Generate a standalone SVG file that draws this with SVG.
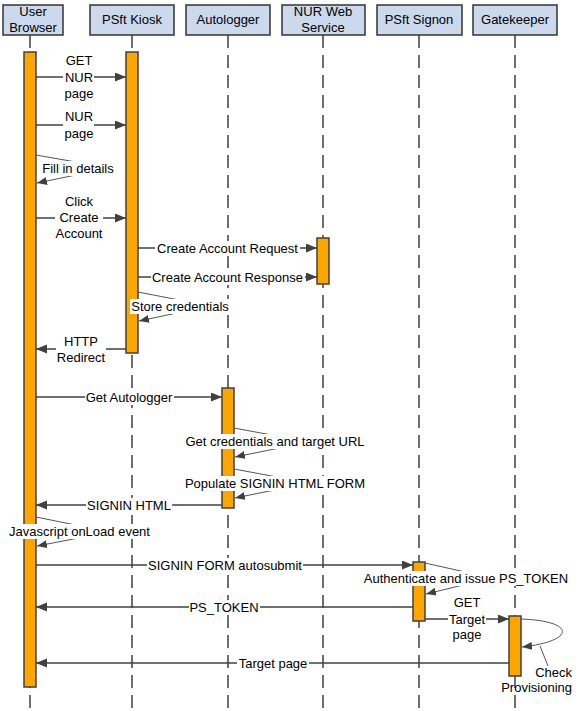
<svg xmlns="http://www.w3.org/2000/svg" width="580" height="711" viewBox="0 0 580 711">
<style>
text{font-family:"Liberation Sans",Arial,sans-serif;font-size:13px;fill:#000}
.hdr{fill:#ccd9ec;stroke:#333;stroke-width:1.5}
.life{stroke:#404040;stroke-width:1.5;stroke-dasharray:13,7;fill:none}
.act{fill:#ffa500;stroke:#404040;stroke-width:1.5}
.msg{stroke:#404040;stroke-width:1.5;fill:none;marker-end:url(#ah)}
.self{stroke:#555;stroke-width:1;fill:none;marker-end:url(#ah2)}
.bg{fill:#fff}
.c{text-anchor:middle}
</style>
<defs>
<marker id="ah" markerUnits="userSpaceOnUse" markerWidth="12" markerHeight="10" refX="11" refY="4.5" orient="auto">
<path d="M0,0 L11,4.5 L0,9 z" fill="#404040"/>
</marker>
<marker id="ah2" markerUnits="userSpaceOnUse" markerWidth="12" markerHeight="10" refX="10" refY="4" orient="auto">
<path d="M0,0 L10,4 L0,8 z" fill="#404040"/>
</marker>
</defs>

<g id="lifelines">
<line class="life" x1="30" y1="35" x2="30" y2="711"/>
<line class="life" x1="132" y1="35" x2="132" y2="711"/>
<line class="life" x1="228" y1="35" x2="228" y2="711"/>
<line class="life" x1="323" y1="35" x2="323" y2="711"/>
<line class="life" x1="419" y1="35" x2="419" y2="711"/>
<line class="life" x1="515" y1="35" x2="515" y2="711"/>
</g>

<g id="node-user-browser">
<rect class="hdr" x="3" y="5" width="60" height="30"/>
<text class="c" x="33" y="16">User</text>
<text class="c" x="33" y="32">Browser</text>
</g>
<g id="node-psft-kiosk">
<rect class="hdr" x="90" y="5" width="84" height="30"/>
<text class="c" x="132" y="24">PSft Kiosk</text>
</g>
<g id="node-autologger">
<rect class="hdr" x="186" y="5" width="84" height="30"/>
<text class="c" x="228" y="24">Autologger</text>
</g>
<g id="node-nur-web-service">
<rect class="hdr" x="282" y="5" width="83" height="30"/>
<text class="c" x="323" y="16">NUR Web</text>
<text class="c" x="323" y="32">Service</text>
</g>
<g id="node-psft-signon">
<rect class="hdr" x="377" y="5" width="85" height="30"/>
<text class="c" x="419" y="24">PSft Signon</text>
</g>
<g id="node-gatekeeper">
<rect class="hdr" x="473" y="5" width="84" height="30"/>
<text class="c" x="515" y="24">Gatekeeper</text>
</g>

<g id="activations">
<rect class="act" x="24" y="52" width="12" height="635"/>
<rect class="act" x="126" y="52" width="12" height="301"/>
<rect class="act" x="222" y="388" width="12" height="120"/>
<rect class="act" x="317" y="238" width="12" height="46"/>
<rect class="act" x="413" y="562" width="12" height="59"/>
<rect class="act" x="509" y="616" width="12" height="60"/>
</g>

<g id="connectors">
<!-- GET NUR page -->
<line class="msg" x1="36" y1="77" x2="126" y2="77"/>
<rect class="bg" x="63" y="52" width="31" height="49"/>
<text class="c" x="79" y="65">GET</text>
<text class="c" x="79" y="82">NUR</text>
<text class="c" x="79" y="98">page</text>
<!-- NUR page -->
<line class="msg" x1="36" y1="125" x2="126" y2="125"/>
<rect class="bg" x="63" y="109" width="31" height="32"/>
<text class="c" x="79" y="121">NUR</text>
<text class="c" x="79" y="138">page</text>
<!-- Fill in details -->
<path class="self" d="M36,155 L110,168 L37,183"/>
<rect class="bg" x="42" y="161" width="73" height="15"/>
<text class="c" x="78" y="173">Fill in details</text>
<!-- Click Create Account -->
<line class="msg" x1="36" y1="218" x2="126" y2="218"/>
<rect class="bg" x="55" y="194" width="48" height="48"/>
<text class="c" x="79" y="206">Click</text>
<text class="c" x="79" y="222">Create</text>
<text class="c" x="79" y="238">Account</text>
<!-- Create Account Request -->
<line class="msg" x1="138" y1="248" x2="317" y2="248"/>
<rect class="bg" x="155" y="241" width="145" height="15"/>
<text class="c" x="227.5" y="252.5">Create Account Request</text>
<!-- Create Account Response -->
<line class="msg" x1="138" y1="277" x2="317" y2="277"/>
<rect class="bg" x="151" y="270" width="154" height="15"/>
<text class="c" x="227.5" y="281.5">Create Account Response</text>
<!-- Store credentials -->
<path class="self" d="M138,292 L210,306 L139,321"/>
<rect class="bg" x="130" y="299" width="100" height="15"/>
<text class="c" x="180" y="311">Store credentials</text>
<!-- HTTP Redirect -->
<line class="msg" x1="126" y1="349" x2="36" y2="349"/>
<rect class="bg" x="56" y="333" width="50" height="32"/>
<text class="c" x="81" y="346">HTTP</text>
<text class="c" x="81" y="362">Redirect</text>
<!-- Get Autologger -->
<line class="msg" x1="36" y1="397" x2="222" y2="397"/>
<rect class="bg" x="85" y="390" width="89" height="15"/>
<text class="c" x="129" y="401.5">Get Autologger</text>
<!-- Get credentials and target URL -->
<path class="self" d="M234,428 L309,442 L235,457"/>
<rect class="bg" x="184" y="434" width="182" height="15"/>
<text class="c" x="275" y="446">Get credentials and target URL</text>
<!-- Populate SIGNIN HTML FORM -->
<path class="self" d="M234,469 L309,483 L235,498"/>
<rect class="bg" x="184" y="476" width="183" height="15"/>
<text class="c" x="275" y="488">Populate SIGNIN HTML FORM</text>
<!-- SIGNIN HTML -->
<line class="msg" x1="222" y1="505" x2="36" y2="505"/>
<rect class="bg" x="86" y="498" width="86" height="15"/>
<text class="c" x="129" y="509.5">SIGNIN HTML</text>
<!-- Javascript onLoad event -->
<path class="self" d="M36,517 L110,532 L37,546"/>
<rect class="bg" x="8" y="524" width="143" height="15"/>
<text class="c" x="79.5" y="536">Javascript onLoad event</text>
<!-- SIGNIN FORM autosubmit -->
<line class="msg" x1="36" y1="565" x2="413" y2="565"/>
<rect class="bg" x="147" y="558" width="156" height="15"/>
<text class="c" x="225" y="569.5">SIGNIN FORM autosubmit</text>
<!-- Authenticate and issue PS_TOKEN -->
<path class="self" d="M425,563 L492,578 L426,594"/>
<rect class="bg" x="363" y="571" width="207" height="15"/>
<text class="c" x="466" y="583">Authenticate and issue PS_TOKEN</text>
<!-- PS_TOKEN -->
<line class="msg" x1="413" y1="607" x2="36" y2="607"/>
<rect class="bg" x="189" y="600" width="71" height="15"/>
<text class="c" x="224" y="611.5">PS_TOKEN</text>
<!-- GET Target page -->
<line class="msg" x1="425" y1="619" x2="509" y2="619"/>
<rect class="bg" x="448" y="594" width="38" height="48"/>
<text class="c" x="467" y="607">GET</text>
<text class="c" x="467" y="623.5">Target</text>
<text class="c" x="467" y="639">page</text>
<!-- Check Provisioning -->
<path class="self" d="M521,619 C576,621 576,641 522,647"/>
<line stroke="#555" stroke-width="1" x1="540" y1="646" x2="548" y2="666"/>
<text x="572" y="677" text-anchor="end">Check</text>
<text x="572" y="692" text-anchor="end">Provisioning</text>
<!-- Target page -->
<line class="msg" x1="509" y1="663" x2="36" y2="663"/>
<rect class="bg" x="237" y="656" width="72" height="15"/>
<text class="c" x="273" y="667.5">Target page</text>
</g>
</svg>
